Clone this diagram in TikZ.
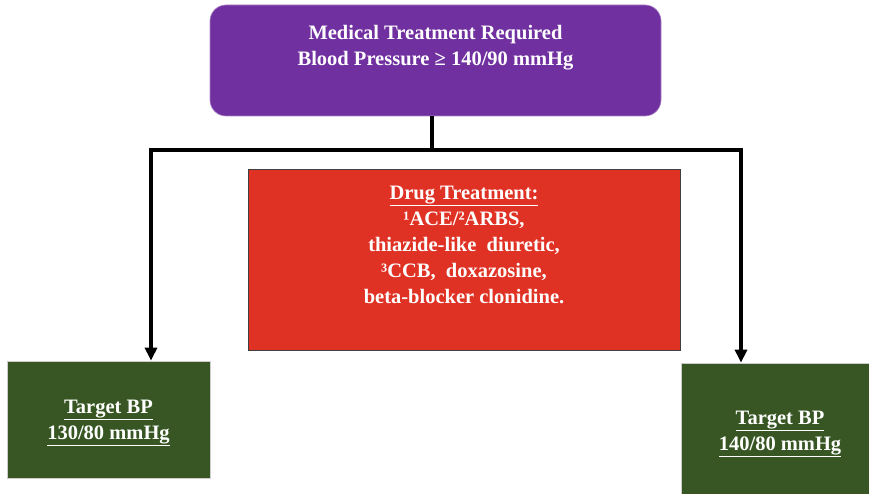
\documentclass[tikz,border=0pt]{standalone}
\usepackage{fontspec}
\setmainfont{Liberation Serif}
\usetikzlibrary{arrows.meta}
\definecolor{boxpurple}{HTML}{7030A0}
\definecolor{boxred}{HTML}{E03224}
\definecolor{boxgreen}{HTML}{375623}
\tikzset{
  txt/.style={text=white, font=\fontsize{20.5}{26}\selectfont\bfseries, align=center, inner sep=0pt},
  pbox/.style={fill=boxpurple, draw=boxpurple!60!white, line width=0.6pt, rounded corners=16pt, inner sep=0pt},
  rbox/.style={fill=boxred, draw=black!75, line width=1pt, inner sep=0pt},
  gbox/.style={fill=boxgreen, draw=gray!40, line width=0.8pt, inner sep=0pt},
  conn/.style={line width=3.5pt, black},
  arr/.style={conn, -{Triangle[width=12pt,length=13pt]}}
}
\begin{document}
\begin{tikzpicture}[x=1pt,y=-1pt]
\useasboundingbox (0,0) rectangle (869,494);
\clip (0,0) rectangle (869,494);
% boxes
\node[pbox, minimum width=451pt, minimum height=111pt] (top) at (435.5,60.5) {};
\node[txt] (toptext) at (435.5,48) {Medical Treatment Required\\Blood Pressure ≥ 140/90 mmHg};
\node[rbox, minimum width=432pt, minimum height=180pt] (drug) at (464,260) {};
\node[txt] (drugtext) at (464,245) {\underline{Drug Treatment:}\\¹ACE/²ARBS,\\thiazide-like\ \ diuretic,\\³CCB,\ \ doxazosine,\\beta-blocker clonidine.};
\node[gbox, minimum width=203pt, minimum height=117pt] (left) at (108.5,419.5) {};
\node[txt] (lefttext) at (108.5,423) {\underline{Target BP}\\\underline{130/80 mmHg}};
\node[gbox, minimum width=210pt, minimum height=150pt] (right) at (786,438) {};
\node[txt] (righttext) at (780,434) {\underline{Target BP}\\\underline{140/80 mmHg}};
% connectors
\coordinate (j) at (432,150);
\coordinate (lj) at (151,150);
\coordinate (rj) at (741,150);
\draw[conn] (top.south -| j) -- (j);
\draw[arr, line join=miter] (j) -- (lj) -- (lj |- left.north);
\draw[arr, line join=miter] (j) -- (rj) -- (rj |- right.north);
\end{tikzpicture}
\end{document}
